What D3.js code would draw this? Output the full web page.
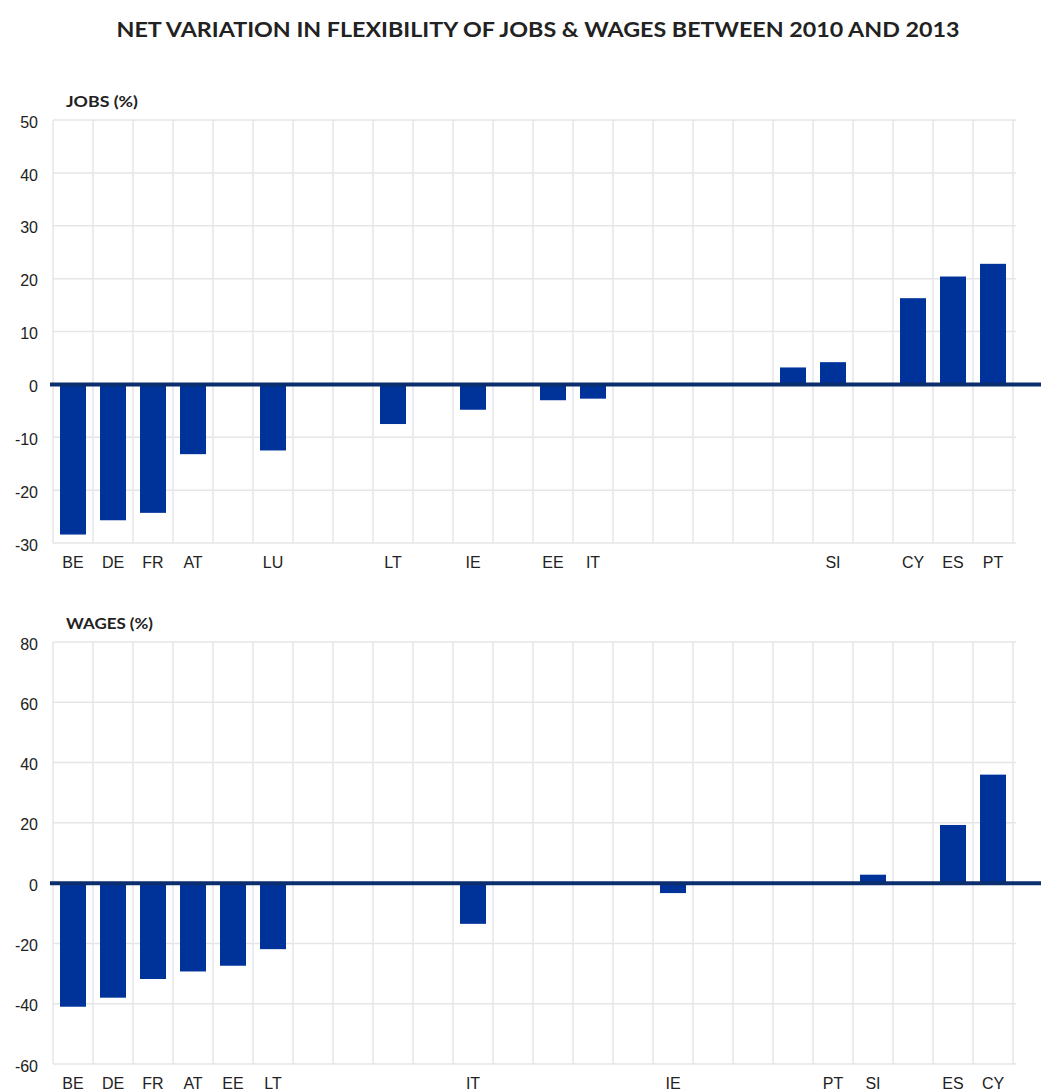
<!DOCTYPE html>
<html>
<head>
<meta charset="utf-8">
<script src="https://cdn.jsdelivr.net/npm/d3@7"></script>
<style>
  body { margin: 0; background: #fff; }
</style>
</head>
<body>
<script>
document.body.style.overflow = 'hidden';

const titleText = "NET VARIATION IN FLEXIBILITY OF JOBS & WAGES BETWEEN 2010 AND 2013";

const jobsLabels = ["BE", "DE", "FR", "AT", "", "LU", "", "", "LT", "", "IE", "", "EE", "IT", "", "", "", "", "", "SI", "", "CY", "ES", "PT"];
const jobsValues = [-28.4, -25.7, -24.3, -13.2, null, -12.5, null, null, -7.5, null, -4.8, null, -3.0, -2.7, null, null, null, null, 3.2, 4.2, null, 16.3, 20.4, 22.8];
const jobsTicks = [-30, -20, -10, 0, 10, 20, 30, 40, 50];

const wagesLabels = ["BE", "DE", "FR", "AT", "EE", "LT", "", "", "", "", "IT", "", "", "", "", "IE", "", "", "", "PT", "SI", "", "ES", "CY"];
const wagesValues = [-41, -38, -31.8, -29.3, -27.4, -21.9, null, null, null, null, -13.5, null, null, null, null, -3.3, null, null, null, 0, 2.8, null, 19.3, 36];
const wagesTicks = [-60, -40, -20, 0, 20, 40, 60, 80];

const width = 1041;
const height = 1092;
const barColor = "#00339a";
const zeroColor = "#0b2e6f";
const gridColor = "#e6e6e6";
const textColor = "#222";

const svg = d3.select("body").append("svg")
    .attr("width", width)
    .attr("height", height)
    .style("font-family", '"Liberation Sans", Arial, sans-serif');

// main title
svg.append("text")
    .attr("x", 538)
    .attr("y", 37)
    .attr("text-anchor", "middle")
    .attr("fill", textColor)
    .style("font-family", 'Lato, "Open Sans", sans-serif')
    .style("font-weight", "700")
    .style("font-size", "21px")
    .attr("textLength", 843)
    .attr("lengthAdjust", "spacingAndGlyphs")
    .text(titleText);

function renderPanel(opts) {
    const {labels, values, ticks, name, nameWidth, top, bottom} = opts;
    const left = 53, right = 1013;

    const xScale = d3.scaleBand()
        .domain(d3.range(labels.length))
        .range([left, right])
        .paddingInner(0.35)
        .paddingOuter(0.175);

    const yScale = d3.scaleLinear()
        .domain(d3.extent(ticks))
        .range([bottom, top]);

    const g = svg.append("g").attr("class", "panel");

    // horizontal grid
    g.append("g").attr("class", "hgrid")
        .selectAll("line").data(ticks).enter().append("line")
        .attr("x1", left).attr("x2", right + 3)
        .attr("y1", (d) => yScale(d)).attr("y2", (d) => yScale(d))
        .attr("stroke", gridColor)
        .attr("stroke-width", 1.5);

    // vertical grid at slot edges
    const step = xScale.step();
    g.append("g").attr("class", "vgrid")
        .selectAll("line").data(d3.range(labels.length + 1)).enter().append("line")
        .attr("x1", (i) => left + i * step).attr("x2", (i) => left + i * step)
        .attr("y1", top).attr("y2", bottom)
        .attr("stroke", gridColor)
        .attr("stroke-width", 1.5);

    // y tick labels (plain hyphen minus, like the source)
    const yAxis = d3.axisLeft(yScale).tickValues(ticks).tickSize(0).tickPadding(0)
        .tickFormat((d) => String(d));
    const ya = g.append("g").attr("class", "yaxis")
        .attr("transform", "translate(38,2)")
        .call(yAxis);
    ya.select(".domain").remove();
    ya.selectAll("text")
        .attr("fill", textColor)
        .style("font-size", "16px")
        .style("font-family", '"Liberation Sans", Arial, sans-serif');

    // x labels
    const xAxis = d3.axisBottom(xScale).tickSize(0).tickPadding(0).tickFormat((i) => labels[i]);
    const xa = g.append("g").attr("class", "xaxis")
        .attr("transform", "translate(0," + (bottom + 14) + ")")
        .call(xAxis);
    xa.select(".domain").remove();
    xa.selectAll("text")
        .attr("fill", textColor)
        .style("font-size", "16px")
        .style("font-family", '"Liberation Sans", Arial, sans-serif');

    // bars
    const items = values.map((v, i) => ({i: i, v: v})).filter((d) => d.v !== null);
    g.append("g").attr("class", "bars")
        .selectAll("rect").data(items).enter().append("rect")
        .attr("x", (d) => xScale(d.i))
        .attr("width", xScale.bandwidth())
        .attr("y", (d) => yScale(Math.max(0, d.v)))
        .attr("height", (d) => Math.abs(yScale(d.v) - yScale(0)))
        .attr("fill", barColor);

    // zero line
    g.append("line")
        .attr("x1", left - 3).attr("x2", width)
        .attr("y1", yScale(0)).attr("y2", yScale(0))
        .attr("stroke", zeroColor)
        .attr("stroke-width", 4);

    // panel title
    g.append("text")
        .attr("x", 66)
        .attr("y", top - 13)
        .attr("fill", textColor)
        .style("font-family", 'Lato, "Open Sans", sans-serif')
        .style("font-weight", "700")
        .style("font-size", "15px")
        .attr("textLength", nameWidth)
        .attr("lengthAdjust", "spacingAndGlyphs")
        .text(name);
}

renderPanel({labels: jobsLabels, values: jobsValues, ticks: jobsTicks, name: "JOBS (%)", nameWidth: 72, top: 120, bottom: 543});
renderPanel({labels: wagesLabels, values: wagesValues, ticks: wagesTicks, name: "WAGES (%)", nameWidth: 87, top: 642, bottom: 1064});
</script>
</body>
</html>
